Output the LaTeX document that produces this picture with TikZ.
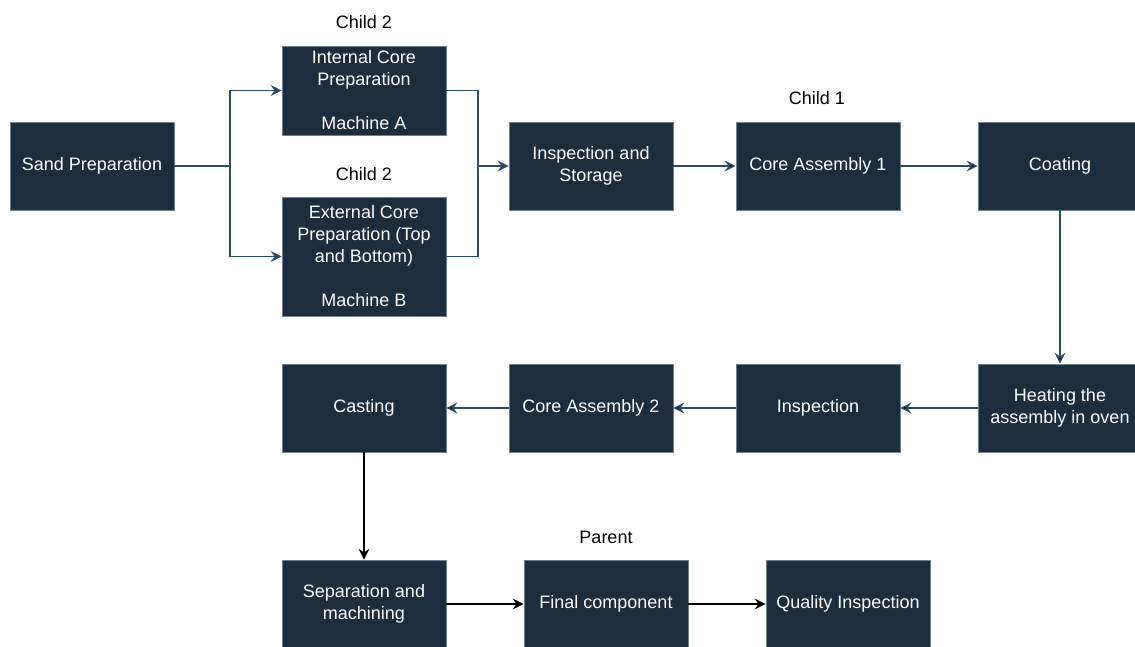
\documentclass[tikz,border=0pt]{standalone}
\usepackage{fontspec}
\setmainfont{Liberation Sans}
\usetikzlibrary{arrows.meta}

\definecolor{boxfill}{HTML}{1C2D3E}
\definecolor{boxline}{HTML}{6F8194}
\definecolor{linkblue}{HTML}{2B4A66}

\tikzset{
	stage/.style={rectangle, fill=boxfill, draw=boxline, line width=0.8pt, text=white,
		minimum width=164pt, minimum height=88pt, align=center, inner sep=0pt,
		font=\fontsize{18}{22}\selectfont},
	tag/.style={text=black, font=\fontsize{18}{22}\selectfont},
	flow/.style={draw=linkblue, line width=1.4pt, -{Stealth[length=11pt,width=11pt,inset=4pt]}},
	flowline/.style={draw=linkblue, line width=1.4pt},
	flowblack/.style={draw=black, line width=1.4pt, -{Stealth[length=11pt,width=11pt,inset=4pt]}}
}

\begin{document}
\begin{tikzpicture}[x=1pt, y=-1pt]
	
	\clip (0,0) rectangle (1135,646);
	\useasboundingbox (0,0) rectangle (1135,646);
	
	\node[stage] (sand) at (92, 166)     {Sand Preparation};
	\node[stage, minimum height=89pt] (internal) at (364, 90.5)     {Internal Core\\Preparation\\\mbox{}\\Machine A};
	\node[stage, minimum height=119pt] (external) at (364, 256.5)     {External Core\\Preparation (Top\\and Bottom)\\\mbox{}\\Machine B};
	\node[stage] (storage) at (591, 166)     {Inspection and\\Storage};
	\node[stage] (core1) at (818, 166)     {Core Assembly 1};
	\node[stage] (coating) at (1060, 166)     {Coating};
	\node[stage] (heating) at (1060, 408)     {Heating the\\assembly in oven};
	\node[stage] (insp) at (818, 408)     {Inspection};
	\node[stage] (core2) at (591, 408)     {Core Assembly 2};
	\node[stage] (casting) at (364, 408)     {Casting};
	\node[stage] (separation) at (364, 604)     {Separation and\\machining};
	\node[stage] (final) at (606, 604)     {Final component};
	\node[stage] (quality) at (848, 604)     {Quality Inspection};
	
	\node[tag] (tagA) at (364, 22)     {Child 2};
	\node[tag] (tagB) at (364, 174)     {Child 2};
	\node[tag] (tagC) at (817, 98)     {Child 1};
	\node[tag] (tagD) at (606, 537)     {Parent};
	
	\coordinate (fork) at (230, 166);
	\coordinate (join) at (478, 166);
	
	\path[flowline] (sand.east) -- (fork);
	\path[flow] (fork) |- (internal.west);
	\path[flow] (fork) |- (external.west);
	\path[flowline] (internal.east) -| (join);
	\path[flowline] (external.east) -| (join);
	\path[flow] (join) -- (storage.west);
	\path[flow] (storage) edge (core1);
	\path[flow] (core1) edge (coating);
	\path[flow] (coating) edge (heating);
	\path[flow] (heating) edge (insp);
	\path[flow] (insp) edge (core2);
	\path[flow] (core2) edge (casting);
	\path[flowblack] (casting) edge (separation);
	\path[flowblack] (separation) edge (final);
	\path[flowblack] (final) edge (quality);
	\end{tikzpicture}
\end{document}
